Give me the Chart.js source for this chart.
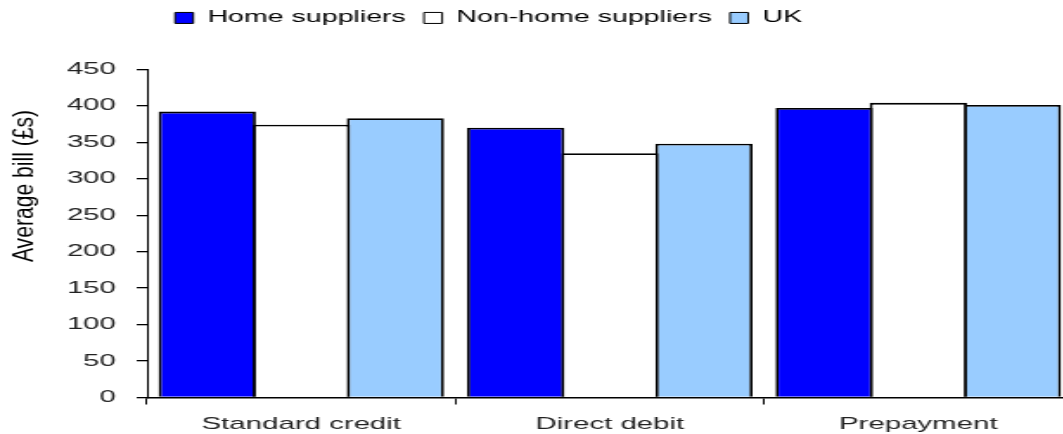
<!doctype html>
<html lang="en">
  <head>
    <meta charset="UTF-8" />
    <title>Average bill</title>
    <style>
      html, body { margin: 0; padding: 0; overflow: hidden; background: #fff; }
    </style>
  </head>
  <body>
    <!-- drawn narrow and stretched sideways, like the reference -->
    <canvas id="billChart" width="622" height="434" style="width:1076px;height:434px"></canvas>
    <script src="https://cdn.jsdelivr.net/npm/chart.js"></script>
    <script>
      const categories = ["Standard credit", "Direct debit", "Prepayment"];
      const homeSuppliers = [392, 370, 397];
      const nonHomeSuppliers = [374, 335, 404];
      const ukAverage = [383, 348, 401];
      const yTicks = [0, 50, 100, 150, 200, 250, 300, 350, 400, 450];
      const yTitle = "Average bill (£s)";

      const fontFamily = "'Liberation Sans', Arial, sans-serif";
      const legendPad = 10.5;

      // move the legend to where the reference has it
      const legendPlace = {
        id: "legendPlace",
        afterUpdate(chart) {
          const lg = chart.legend;
          lg.left = 101.2 - legendPad;
          lg.right = lg.left + 520;
          lg.top = -0.8;
        },
      };

      // y axis title, drawn by hand so it can sit above centre
      const yTitlePlugin = {
        id: "yTitle",
        afterDraw(chart) {
          const ctx = chart.ctx;
          ctx.save();
          ctx.translate(14, 186);
          ctx.rotate(-Math.PI / 2);
          ctx.scale(1.28, 1);
          ctx.font = "16.5px " + fontFamily;
          ctx.fillStyle = "#000";
          ctx.textAlign = "center";
          ctx.textBaseline = "middle";
          ctx.fillText(yTitle, 0, 0);
          ctx.restore();
        },
      };

      const ctx = document.getElementById("billChart").getContext("2d");
      new Chart(ctx, {
        type: "bar",
        data: {
          labels: categories,
          datasets: [
            { label: "Home suppliers", data: homeSuppliers, backgroundColor: "#0000ff" },
            { label: "Non-home suppliers", data: nonHomeSuppliers, backgroundColor: "#ffffff" },
            { label: "UK", data: ukAverage, backgroundColor: "#99ccff" },
          ],
        },
        options: {
          responsive: false,
          animation: false,
          devicePixelRatio: 1,
          layout: { padding: { top: 32.3, bottom: 2, right: 2, left: 0 } },
          datasets: {
            bar: {
              borderColor: "#000",
              borderWidth: 1.8,
              categoryPercentage: 0.915,
              barPercentage: 1.035,
            },
          },
          plugins: {
            tooltip: { enabled: false },
            legend: {
              position: "top",
              align: "start",
              labels: {
                boxWidth: 10.5,
                boxHeight: 11,
                padding: legendPad,
                color: "#000",
                font: { family: fontFamily, size: 16.5 },
                generateLabels(chart) {
                  return Chart.defaults.plugins.legend.labels
                    .generateLabels(chart)
                    .map((l) => ({ ...l, lineWidth: 1 }));
                },
              },
            },
          },
          scales: {
            x: {
              afterFit(scale) {
                scale.height = 34.5;
              },
              grid: {
                offset: true,
                drawOnChartArea: false,
                tickLength: 7,
                color: "#000",
                lineWidth: 1,
              },
              border: { color: "#000", width: 1.5 },
              ticks: {
                padding: 10,
                color: "#222",
                font: { family: fontFamily, size: 17 },
              },
            },
            y: {
              min: 0,
              max: 450,
              afterFit(scale) {
                scale.width = 85;
              },
              afterBuildTicks(scale) {
                scale.ticks = yTicks.map((v) => ({ value: v }));
              },
              grid: {
                drawOnChartArea: false,
                tickLength: 6,
                color: "#000",
                lineWidth: 1.3,
              },
              border: { color: "#000", width: 1 },
              ticks: {
                padding: 12,
                color: "#222",
                font: { family: fontFamily, size: 17 },
              },
            },
          },
        },
        plugins: [legendPlace, yTitlePlugin],
      });
    </script>
  </body>
</html>
